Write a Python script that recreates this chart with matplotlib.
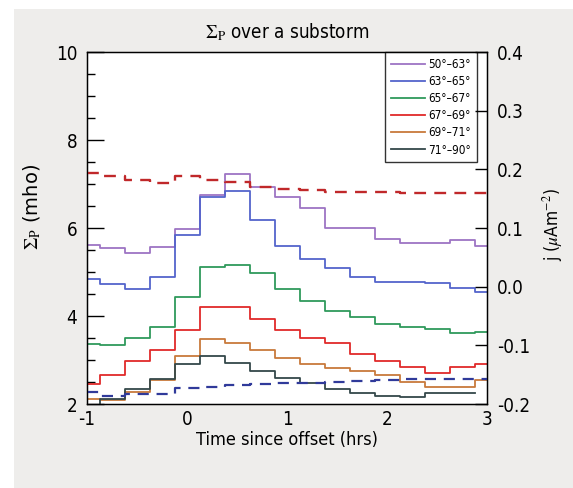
import numpy as np
import matplotlib
matplotlib.use("Agg")
import matplotlib.pyplot as plt
from matplotlib.patches import Rectangle
from matplotlib.ticker import MultipleLocator, FormatStrFormatter

plt.rcParams['font.family'] = ['DejaVu Sans']
plt.rcParams['font.stretch'] = 'condensed'
plt.rcParams['mathtext.fontset'] = 'stix'
plt.rcParams['axes.unicode_minus'] = False

# time bin centres (hrs since offset)
t = np.arange(-1.0, 3.01, 0.25)

labels = ['50\u00b0\u201363\u00b0', '63\u00b0\u201365\u00b0', '65\u00b0\u201367\u00b0',
          '67\u00b0\u201369\u00b0', '69\u00b0\u201371\u00b0', '71\u00b0\u201390\u00b0']

sig_50_63 = [5.61, 5.54, 5.44, 5.56, 5.98, 6.74, 7.22, 6.94, 6.71, 6.46, 6.01, 6.01, 5.74, 5.65, 5.66, 5.72, 5.59]
sig_63_65 = [4.83, 4.73, 4.61, 4.88, 5.84, 6.71, 6.84, 6.18, 5.58, 5.29, 5.10, 4.89, 4.78, 4.77, 4.76, 4.63, 4.54]
sig_65_67 = [3.36, 3.33, 3.49, 3.76, 4.44, 5.12, 5.16, 4.97, 4.61, 4.33, 4.12, 3.97, 3.81, 3.74, 3.70, 3.62, 3.64]
sig_67_69 = [2.46, 2.67, 2.98, 3.22, 3.69, 4.20, 4.20, 3.93, 3.68, 3.51, 3.38, 3.14, 2.98, 2.83, 2.71, 2.83, 2.90]
sig_69_71 = [2.12, 2.10, 2.28, 2.55, 3.08, 3.47, 3.39, 3.23, 3.05, 2.92, 2.82, 2.75, 2.66, 2.51, 2.38, 2.38, 2.54]
sig_71_90 = [1.90, 2.11, 2.33, 2.57, 2.92, 3.10, 2.94, 2.75, 2.60, 2.47, 2.33, 2.24, 2.19, 2.15, 2.26, 2.24, np.nan]

# field-aligned current density (right axis)
j_up = [0.193, 0.1885, 0.182, 0.176, 0.189, 0.182, 0.178, 0.1705, 0.166, 0.1645, 0.162, 0.161, 0.161, 0.160, 0.159, 0.159, 0.159]
j_down = [-0.179, -0.186, -0.183, -0.183, -0.173, -0.171, -0.168, -0.166, -0.165, -0.165, -0.1625, -0.160, -0.159, -0.158, -0.158, -0.158, -0.158]

series = [sig_50_63, sig_63_65, sig_65_67, sig_67_69, sig_69_71, sig_71_90]
colors = ['#9d74c4', '#5464cc', '#2f9a5c', '#e02a2a', '#c87a3c', '#34484a']

fig = plt.figure(figsize=(5.73, 4.88), dpi=100, facecolor='white')
fig.patches.append(Rectangle((14/573, 0), 1 - 14/573, 1 - 9/488, transform=fig.transFigure,
                             facecolor='#eeedeb', edgecolor='none', zorder=-10))
ax = fig.add_axes([87/573, 1 - 404/488, 400/573, 352/488])
ax.set_facecolor('white')

for ys, c, lab in zip(series, colors, labels):
    ax.step(t, ys, where='mid', color=c, lw=1.3, label=lab)

ax.set_xlim(-1, 3)
ax.set_ylim(2, 10)
ax.yaxis.set_major_locator(MultipleLocator(2))
ax.yaxis.set_minor_locator(MultipleLocator(0.5))
ax.xaxis.set_major_locator(MultipleLocator(1))
ax.tick_params(axis='y', which='major', direction='in', length=12, width=1, labelsize=13.5, pad=7)
ax.tick_params(axis='y', which='minor', direction='in', length=6, width=1)
ax.tick_params(axis='x', length=0, labelsize=13.5, pad=4)
for s in ax.spines.values():
    s.set_linewidth(1.0)

ax.set_xlabel('Time since offset (hrs)', fontsize=13, labelpad=2)
ax.set_ylabel(r'$\Sigma_{\rm P}$ (mho)', fontsize=14, fontstretch='normal')
ax.yaxis.set_label_coords(-0.11, 0.56)

leg = ax.legend(loc='upper right', bbox_to_anchor=(0.975, 1.0), borderaxespad=0,
                fontsize=8.5, frameon=True, fancybox=False, handlelength=2.9,
                handletextpad=0.3, labelspacing=0.35, borderpad=0.5)
leg.get_frame().set_edgecolor('black')
leg.get_frame().set_linewidth(1.0)

ax2 = ax.twinx()
ax2.step(t, j_up, where='mid', color='#c0282a', lw=1.7, ls=(0, (5, 3.5)))
ax2.step(t, j_down, where='mid', color='#303a9a', lw=1.6, ls=(0, (5, 3.5)))
ax2.set_ylim(-0.2, 0.4)
ax2.yaxis.set_major_locator(MultipleLocator(0.1))
ax2.yaxis.set_major_formatter(FormatStrFormatter('%.1f'))
ax2.tick_params(axis='y', direction='in', length=9, width=1, labelsize=13.5, pad=7)
ax2.set_ylabel(r'j ($\mu$Am$^{-2}$)', fontsize=12.5)
ax2.yaxis.set_label_coords(1.135, 0.51)

fig.text(287/573, 1 - 32/488, r'$\Sigma_{\rm P}$ over a substorm', fontsize=13.5,
         ha='center', va='center')

fig.savefig('out.png', dpi=100, facecolor=fig.get_facecolor())
